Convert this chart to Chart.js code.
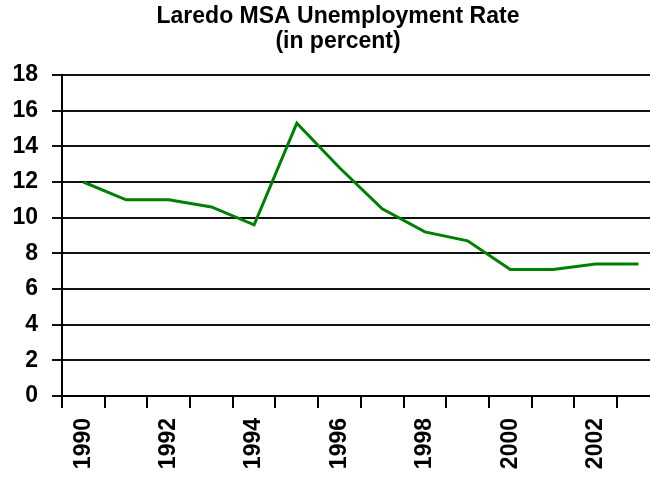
<!DOCTYPE html>
<html>
<head>
<meta charset="utf-8">
<script src="https://cdn.jsdelivr.net/npm/chart.js@4/dist/chart.umd.min.js"></script>
<style>
  html, body { margin: 0; padding: 0; background: #fff; overflow: hidden; }
  #wrap { width: 676px; height: 479px; }
</style>
</head>
<body>
<div id="wrap"><canvas id="chart"></canvas></div>
<script>
const years = ['1990', '1991', '1992', '1993', '1994', '1995', '1996',
  '1997', '1998', '1999', '2000', '2001', '2002', '2003'];
const rates = [12.0, 11.0, 11.0, 10.6, 9.6, 15.3, 12.8, 10.5, 9.2, 8.7, 7.1, 7.1, 7.4, 7.4];
const titleLines = ['Laredo MSA Unemployment Rate', '(in percent)'];

const labelFont = { family: 'Liberation Sans, Arial, sans-serif', size: 23, weight: 'bold' };

new Chart(document.getElementById('chart'), {
  type: 'line',
  data: {
    labels: years,
    datasets: [{
      data: rates,
      borderColor: '#008000',
      borderWidth: 3,
      pointRadius: 0,
      tension: 0,
      fill: false
    }]
  },
  options: {
    responsive: true,
    maintainAspectRatio: false,
    animation: false,
    layout: { padding: 0 },
    plugins: {
      legend: { display: false },
      tooltip: { enabled: false },
      title: {
        display: true,
        text: titleLines,
        color: '#000',
        font: { family: 'Liberation Sans, Arial, sans-serif', size: 23, weight: 'bold', lineHeight: 25 / 23 },
        padding: { top: 4, bottom: 21 }
      }
    },
    scales: {
      x: {
        offset: true,
        afterFit: s => { s.height = 83; },
        grid: {
          offset: true,
          drawOnChartArea: false,
          drawTicks: true,
          tickLength: 12,
          color: '#000',
          lineWidth: 2
        },
        border: { color: '#000', width: 2 },
        ticks: {
          autoSkip: false,
          minRotation: 90,
          maxRotation: 90,
          padding: 10,
          color: '#000',
          font: labelFont,
          callback: function (val, i) { return i % 2 === 0 ? this.getLabelForValue(val) : ''; }
        }
      },
      y: {
        min: 0,
        max: 18,
        afterFit: s => { s.width = 62; },
        grid: {
          color: '#111',
          lineWidth: 2,
          drawTicks: true,
          tickLength: 10
        },
        border: { color: '#000', width: 2 },
        ticks: {
          stepSize: 2,
          autoSkip: false,
          padding: 14,
          color: '#000',
          font: labelFont
        }
      }
    }
  }
});
</script>
</body>
</html>
